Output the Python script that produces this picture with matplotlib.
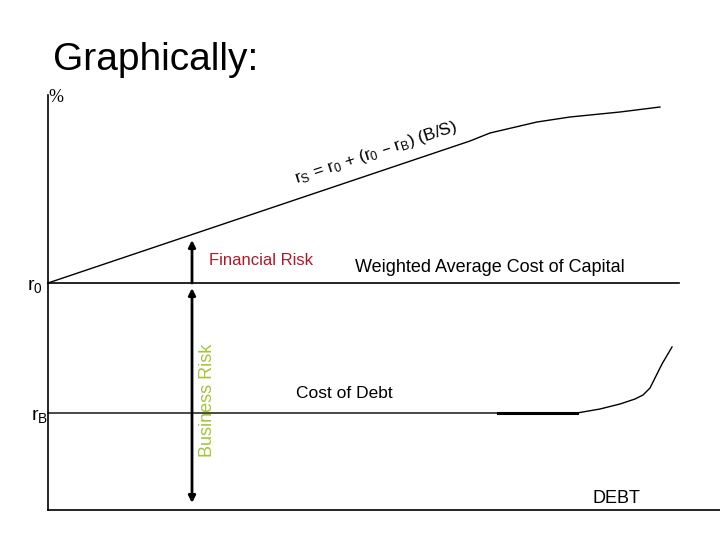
import matplotlib.pyplot as plt

plt.rcParams['font.family'] = ['Liberation Sans', 'DejaVu Sans']
plt.rcParams['mathtext.default'] = 'regular'

# cost of equity r_S (debt, rate)
rs_debt = [0, 422, 442, 489, 522, 572, 612]
rs_rate = [227, 369, 377, 388, 393, 398, 403]

# weighted average cost of capital (flat at r0)
wacc_debt = [0, 631]
wacc_rate = [227, 227]

# cost of debt r_B
rb_debt = [0, 450, 529, 552, 572, 587, 595, 602, 607, 614, 624]
rb_rate = [97, 97, 97, 101, 106, 111, 115, 122, 132, 146, 163]
rb_thick_debt = [450, 529]
rb_thick_rate = [97, 97]

r0 = 227
rb = 97
arrow_x = 144
fin_top = 270
bus_top = 222
bus_bottom = 7

fig = plt.figure(figsize=(7.2, 5.4), dpi=100)
ax = fig.add_axes([0, 0, 1, 1])
ax.set_xlim(-48, 672)
ax.set_ylim(-30, 510)
ax.axis('off')

# axes lines
ax.plot([0, 0], [0, 415], color='black', lw=1.2)
ax.plot([0, 672], [0, 0], color='black', lw=1.2)

ax.plot(rs_debt, rs_rate, color='black', lw=1.0)
ax.plot(wacc_debt, wacc_rate, color='black', lw=1.2)
ax.plot(rb_debt, rb_rate, color='black', lw=1.0)
ax.plot(rb_thick_debt, rb_thick_rate, color='black', lw=2.2)

# risk arrows
ax.annotate('', xy=(arrow_x, fin_top), xytext=(arrow_x, r0),
            arrowprops=dict(arrowstyle='-|>', color='black', lw=2,
                            mutation_scale=10, shrinkA=0, shrinkB=0))
ax.annotate('', xy=(arrow_x, bus_top), xytext=(arrow_x, bus_bottom),
            arrowprops=dict(arrowstyle='<|-|>', color='black', lw=2,
                            mutation_scale=10, shrinkA=0, shrinkB=0))

fig.text(53 / 720, 1 - 70 / 540, 'Graphically:', fontsize=28,
         ha='left', va='baseline')
ax.text(0, 408, '%', fontsize=13, family='Liberation Serif',
        ha='left', va='baseline')
ax.text(-5, 220, 'r$_0$', fontsize=14, ha='right', va='baseline')
ax.text(0, 90, 'r$_B$', fontsize=14, ha='right', va='baseline')

ax.text(161, 245, 'Financial Risk', fontsize=12, color='#b0182a',
        ha='left', va='baseline')
ax.text(307, 238, 'Weighted Average Cost of Capital', fontsize=13,
        ha='left', va='baseline')
ax.text(248, 112, 'Cost of Debt', fontsize=12.5, ha='left', va='baseline')
ax.text(545, 7, 'DEBT', fontsize=13, ha='left', va='baseline')
ax.text(159, 110, 'Business Risk', fontsize=13, color='#a4c43a',
        rotation=90, ha='center', va='center')

ax.text(248, 327, 'r$_S$ = r$_0$ + (r$_0$ – r$_B$) (B/S)', fontsize=12.5,
        rotation=18, rotation_mode='anchor', ha='left', va='baseline')

plt.savefig('out.png', dpi=100)
